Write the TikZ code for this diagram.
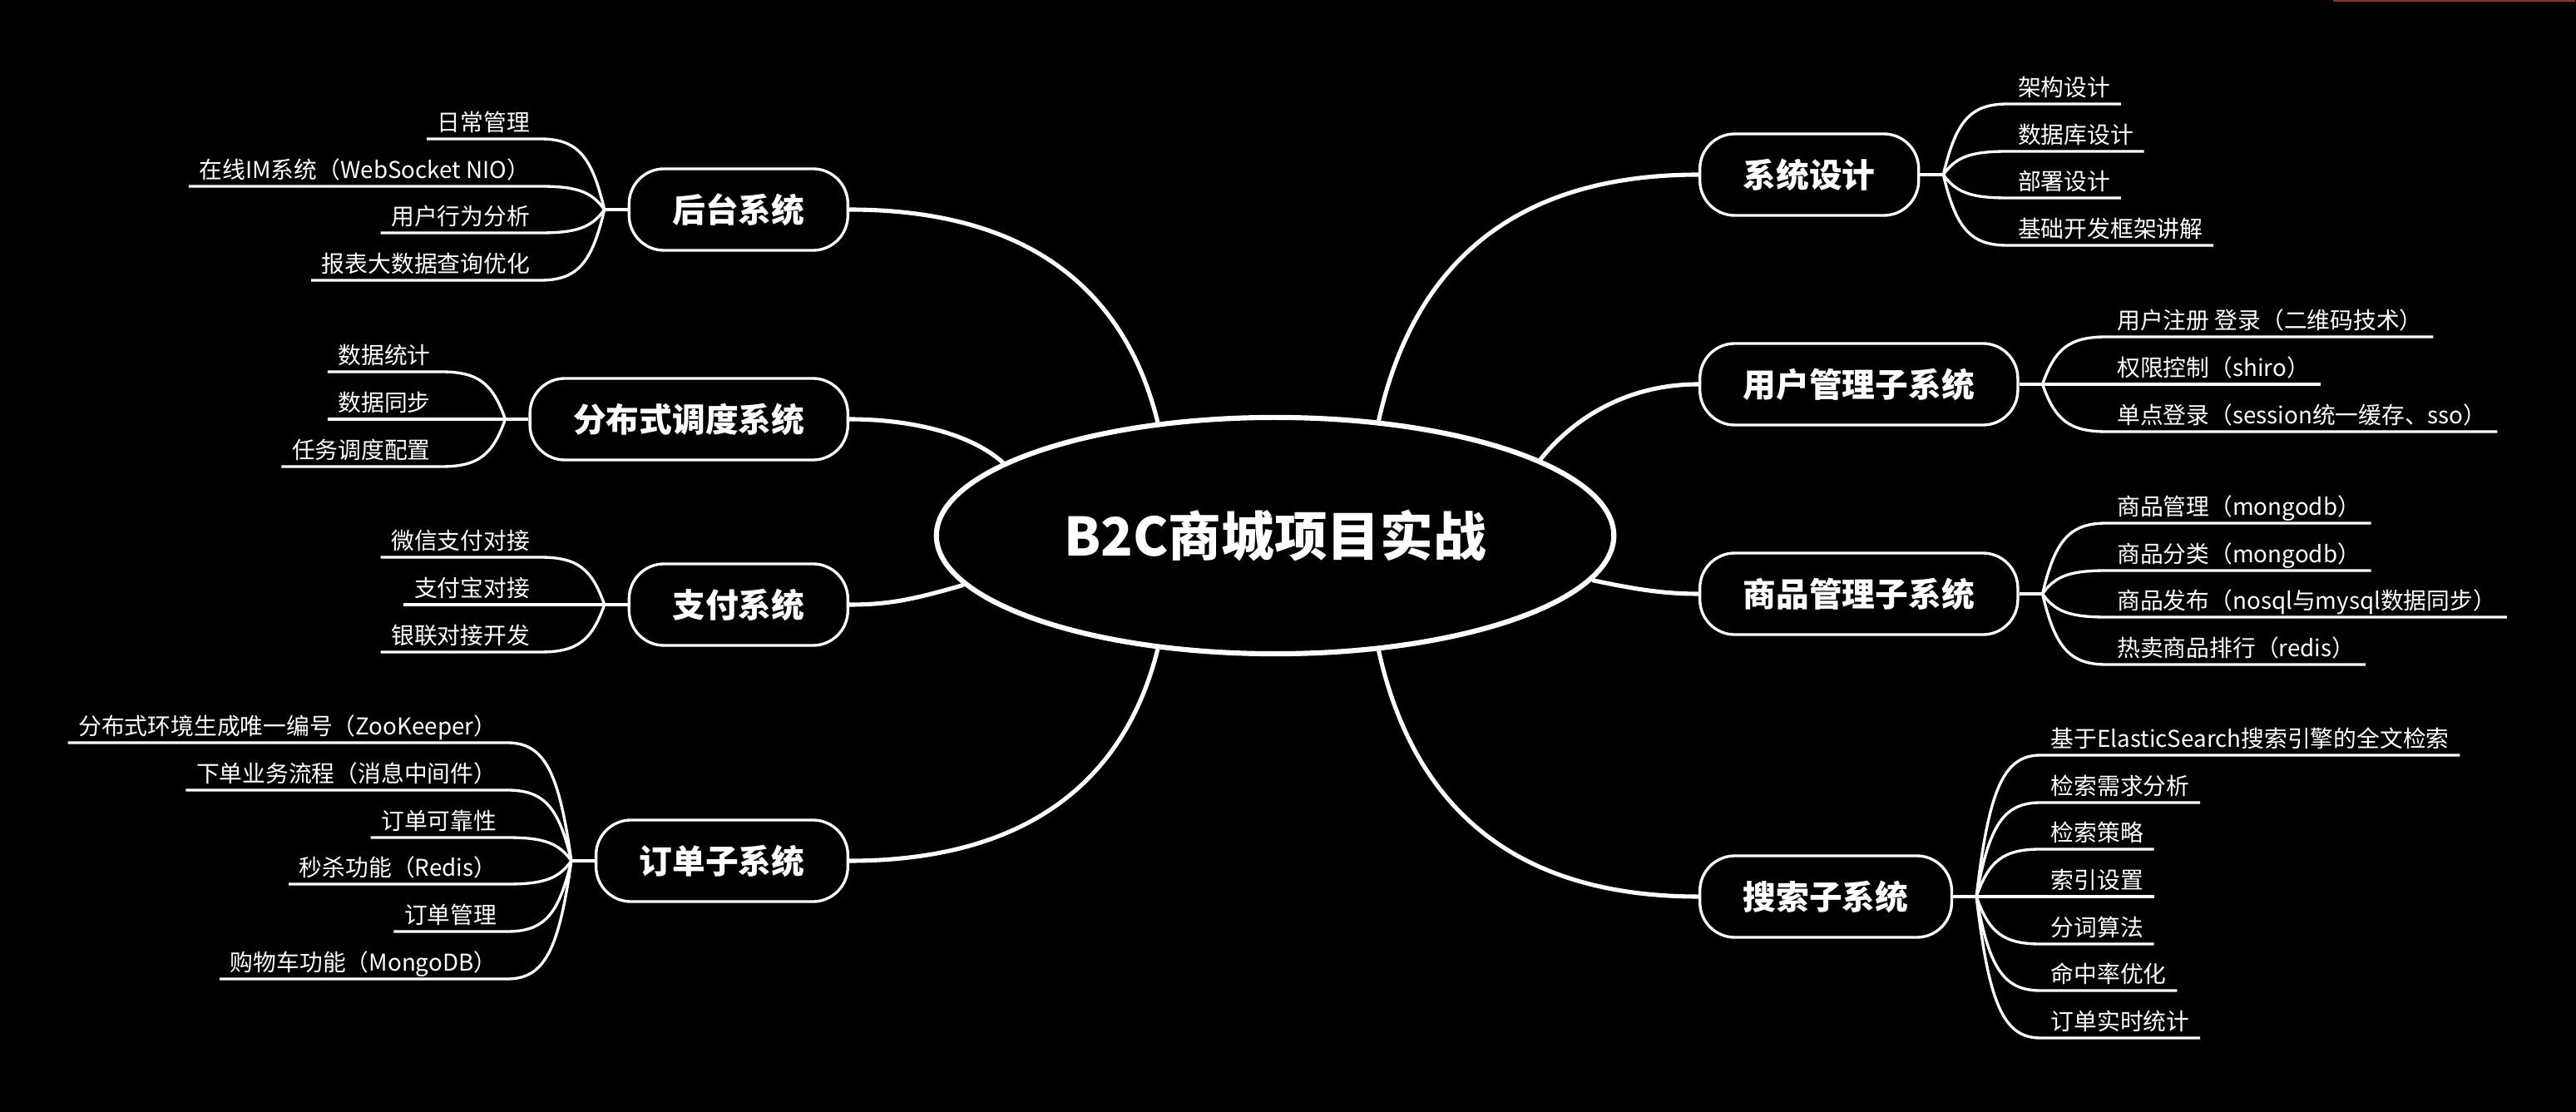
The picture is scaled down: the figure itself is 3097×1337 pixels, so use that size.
\documentclass[tikz,border=0pt]{standalone}
\usepackage{fontspec}
\setmainfont{Noto Sans CJK SC}
\usetikzlibrary{shapes.geometric}
\definecolor{topred}{RGB}{150,45,35}
\newcommand\rleaf[4]{%
  \node[leafR] (#2) at ([shift={(105,#3)}]#1.east) {#4};
  \draw[leafline] (#1b) .. controls +(15,{0.75*(#3)}) and +(-45,0) .. (#2.south west) -- (#2.south east);
}
\newcommand\lleaf[4]{%
  \node[leafL] (#2) at ([shift={(-105,#3)}]#1.west) {#4};
  \draw[leafline] (#1b) .. controls +(-15,{0.75*(#3)}) and +(45,0) .. (#2.south east) -- (#2.south west);
}
\begin{document}
\begin{tikzpicture}[x=0.01cm,y=-0.01cm,
  hub/.style={ellipse, draw=white, line width=1.75pt, fill=black, text=white,
    minimum width=8.14cm, minimum height=2.84cm, inner sep=0pt,
    font=\fontsize{18.1}{20}\selectfont\bfseries},
  branch/.style={draw=white, fill=black, text=white, line width=0.95pt,
    rounded corners=0.42cm, minimum height=0.98cm, inner xsep=0.52cm,
    font=\fontsize{11.3}{13}\selectfont\bfseries},
  leafR/.style={anchor=south west, text=white, inner xsep=0.12cm, inner ysep=0.09cm,
    text depth=0pt, font=\fontsize{7.9}{9}\selectfont},
  leafL/.style={leafR, anchor=south east},
  trunk/.style={draw=white, line width=1.45pt},
  leafline/.style={draw=white, line width=0.95pt}]
\fill[black] (0,0) rectangle (3097,1337);
\useasboundingbox (0,0) rectangle (3097,1337);
\draw[topred, line width=0.6pt] (2805,1) -- (3096,1);

\node[hub] (hub) at (1533,644) {B2C商城项目实战};

% right branches
\node[branch, anchor=west] (n1) at (2042,210) {系统设计};
\node[branch, anchor=west] (n2) at (2042,462) {用户管理子系统};
\node[branch, anchor=west] (n3) at (2042,714) {商品管理子系统};
\node[branch, anchor=west] (n4) at (2042,1078) {搜索子系统};
% left branches
\node[branch, anchor=east] (n5) at (1021,252) {后台系统};
\node[branch, anchor=east] (n6) at (1021,504) {分布式调度系统};
\node[branch, anchor=east] (n7) at (1021,727) {支付系统};
\node[branch, anchor=east] (n8) at (1021,1035) {订单子系统};

% trunk connectors
\draw[trunk] (hub.48.1) .. controls +(40,-180) and +(-230,0) .. (n1.west);
\draw[trunk] (hub.16.9) .. controls +(35,-44) and +(-92,0) .. (n2.west);
\draw[trunk] (hub.-8.6) .. controls +(52,11) and +(-42,0) .. (n3.west);
\draw[trunk] (hub.-48.5) .. controls +(40,180) and +(-230,0) .. (n4.west);
\draw[trunk] (hub.136.9) .. controls +(-38,-155) and +(220,0) .. (n5.east);
\draw[trunk] (hub.165.3) .. controls +(-41,-37) and +(69,0) .. (n6.east);
\draw[trunk] (hub.189.5) .. controls +(-59,17) and +(49,0) .. (n7.east);
\draw[trunk] (hub.224) .. controls +(-38,153) and +(220,0) .. (n8.east);

% branch points
\foreach \n in {n1,n2,n3,n4}{
  \coordinate (\n b) at ([shift={(28,0)}]\n.east);
  \draw[leafline] (\n.east) -- (\n b);
}
\foreach \n in {n5,n6,n7,n8}{
  \coordinate (\n b) at ([shift={(-28,0)}]\n.west);
  \draw[leafline] (\n.west) -- (\n b);
}

% leaves right
\rleaf{n1}{a1}{-85}{架构设计}
\rleaf{n1}{a2}{-28}{数据库设计}
\rleaf{n1}{a3}{28}{部署设计}
\rleaf{n1}{a4}{85}{基础开发框架讲解}

\rleaf{n2}{b1}{-57}{用户注册 登录（二维码技术）}
\rleaf{n2}{b2}{0}{权限控制（shiro）}
\rleaf{n2}{b3}{57}{单点登录（session统一缓存、sso）}

\rleaf{n3}{c1}{-85}{商品管理（mongodb）}
\rleaf{n3}{c2}{-28}{商品分类（mongodb）}
\rleaf{n3}{c3}{28}{商品发布（nosql与mysql数据同步）}
\rleaf{n3}{c4}{85}{热卖商品排行（redis）}

\rleaf{n4}{d1}{-170}{基于ElasticSearch搜索引擎的全文检索}
\rleaf{n4}{d2}{-113}{检索需求分析}
\rleaf{n4}{d3}{-57}{检索策略}
\rleaf{n4}{d4}{0}{索引设置}
\rleaf{n4}{d5}{57}{分词算法}
\rleaf{n4}{d6}{113}{命中率优化}
\rleaf{n4}{d7}{170}{订单实时统计}

% leaves left
\lleaf{n5}{e1}{-85}{日常管理}
\lleaf{n5}{e2}{-28}{在线IM系统（WebSocket NIO）}
\lleaf{n5}{e3}{28}{用户行为分析}
\lleaf{n5}{e4}{85}{报表大数据查询优化}

\lleaf{n6}{f1}{-57}{数据统计}
\lleaf{n6}{f2}{0}{数据同步}
\lleaf{n6}{f3}{57}{任务调度配置}

\lleaf{n7}{g1}{-57}{微信支付对接}
\lleaf{n7}{g2}{0}{支付宝对接}
\lleaf{n7}{g3}{57}{银联对接开发}

\lleaf{n8}{h1}{-142}{分布式环境生成唯一编号（ZooKeeper）}
\lleaf{n8}{h2}{-85}{下单业务流程（消息中间件）}
\lleaf{n8}{h3}{-28}{订单可靠性}
\lleaf{n8}{h4}{28}{秒杀功能（Redis）}
\lleaf{n8}{h5}{85}{订单管理}
\lleaf{n8}{h6}{142}{购物车功能（MongoDB）}
\end{tikzpicture}
\end{document}
